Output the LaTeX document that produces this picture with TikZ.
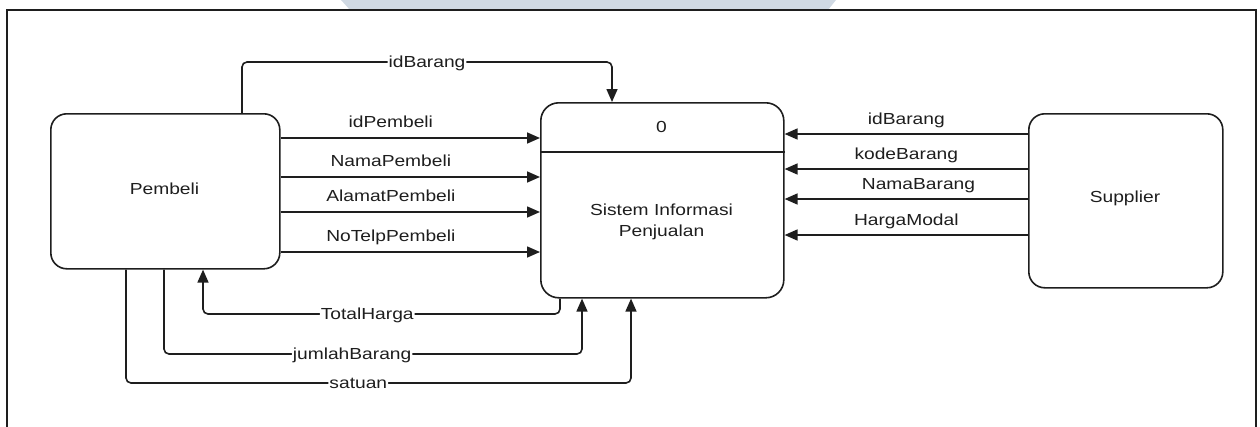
\documentclass[tikz,border=0pt]{standalone}
\usepackage{fontspec}
\setmainfont{Liberation Sans}[FakeStretch=1.2]
\usetikzlibrary{arrows.meta}
\definecolor{wmark}{RGB}{208,217,227}
\definecolor{ink}{RGB}{30,30,30}
\tikzset{
	entity/.style={draw=ink,line width=1.6pt,rounded corners=16pt,inner sep=0pt,anchor=north west},
	flow/.style={draw=ink,line width=1.6pt,rounded corners=5pt,-{Triangle[length=13pt,width=11pt]}},
	flowlbl/.style={anchor=base,text=ink},
	linelbl/.style={fill=white,inner xsep=1pt,inner ysep=1pt,anchor=base,yshift=-5pt,text=ink}
}
\begin{document}
\begin{tikzpicture}[x=1pt,y=-1pt,font=\fontsize{16}{21}\selectfont]
		\useasboundingbox (0,0) rectangle (1260,426);
		% watermark and frame
		\fill[wmark] (341,0) -- (836,0) -- (828,10) -- (350,10) -- cycle;
		\draw[ink,line width=1.6pt] (7,430) -- (7,10) -- (1256,10) -- (1256,430);
		% entities
		\node[entity,minimum width=229pt,minimum height=155pt] (pemb) at (50,113) {};
		\node[text=ink] (pembname) at (164.5,189) {Pembeli};
		\node[entity,minimum width=243pt,minimum height=195pt,rounded corners=18pt] (proc) at (540,102) {};
		\draw[ink,line width=1.6pt] (proc.west |- 0,152) -- (proc.east |- 0,152);
		\node[text=ink] (procid) at (661.5,127) {0};
		\node[text=ink,align=center] (procname) at (661.5,222) {Sistem Informasi\\Penjualan};
		\node[entity,minimum width=194pt,minimum height=174pt] (supp) at (1028,113) {};
		\node[text=ink] (suppname) at (1125,198) {Supplier};
		% Pembeli -> sistem
		\foreach \y/\t in {138/idPembeli,177/NamaPembeli,212/AlamatPembeli,252/NoTelpPembeli}
			\draw[flow] (pemb.east |- 0,\y) -- node[flowlbl,pos=.425,yshift=11pt] {\t} (proc.west |- 0,\y);
		% Supplier -> sistem
		\foreach \y/\t/\p in {134/idBarang/.5,169/kodeBarang/.5,199/NamaBarang/.45,235/HargaModal/.5}
			\draw[flow] (supp.west |- 0,\y) -- node[flowlbl,pos=\p,yshift=10pt] {\t} (proc.east |- 0,\y);
		% loops round the boxes
		\draw[flow] (pemb.north -| 242,0) -- (242,62) -- node[linelbl] {idBarang} (612,62) -- (proc.north -| 612,0);
		\draw[flow] (proc.south -| 560,0) -- (560,314) -- node[linelbl,pos=.54] {TotalHarga} (203,314) -- (pemb.south -| 203,0);
		\draw[flow] (pemb.south -| 164,0) -- (164,354) -- node[linelbl,pos=.45] {jumlahBarang} (582,354) -- (proc.south -| 582,0);
		\draw[flow] (pemb.south -| 126,0) -- (126,383) -- node[linelbl,pos=.46] {satuan} (631,383) -- (proc.south -| 631,0);
\end{tikzpicture}
\end{document}
